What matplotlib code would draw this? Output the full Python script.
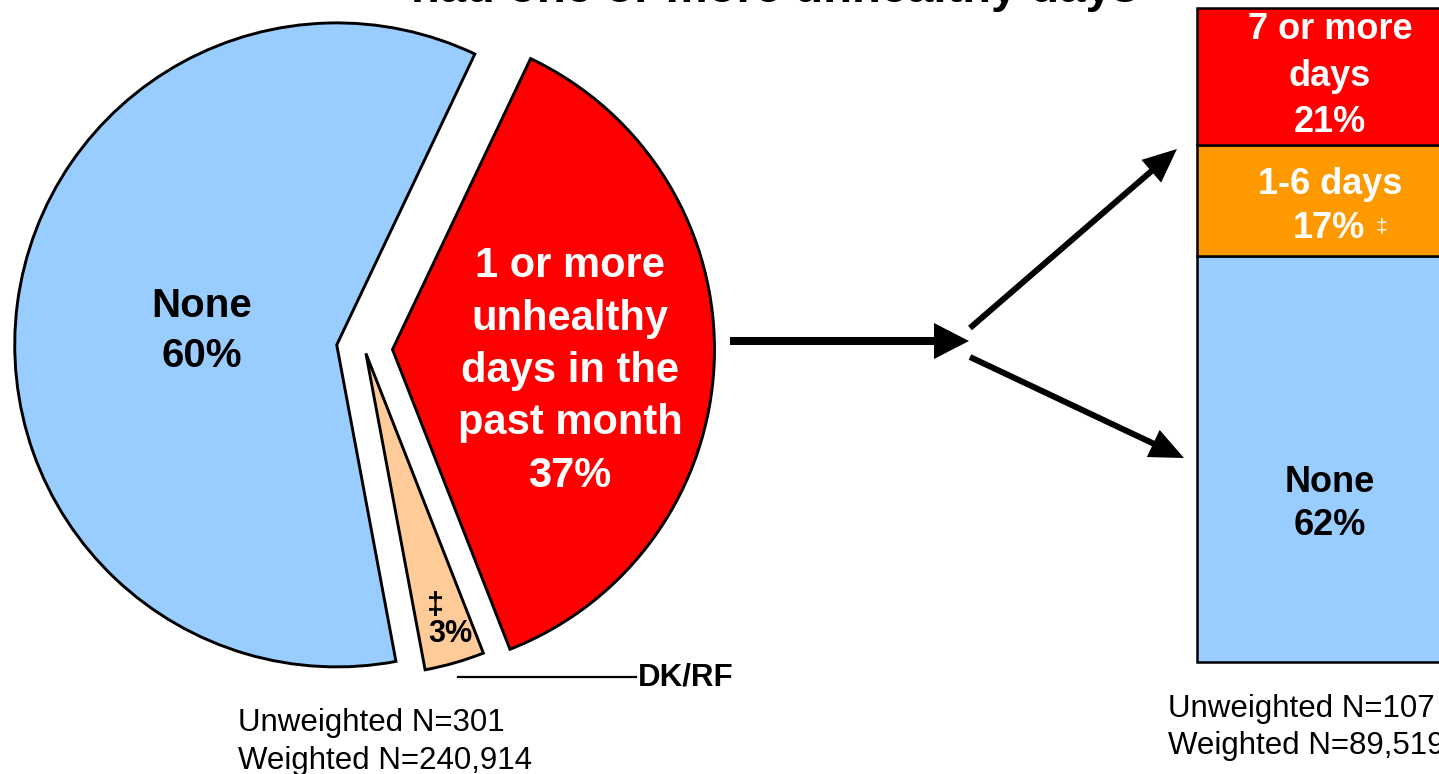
import matplotlib
matplotlib.use("Agg")
import matplotlib.pyplot as plt
from matplotlib.patches import FancyArrow

plt.rcParams['font.family'] = ['Liberation Sans', 'DejaVu Sans']

# ---- data ----
pie_labels = ["1 or more\nunhealthy\ndays in the\npast month\n37%", "\u2021\n3%", "None\n60%"]
pie_values = [37, 3, 60]          # red, DK/RF, None
pie_colors = ["#FF0000", "#FFCC99", "#99CCFF"]

bar_categories = ["None", "1-6 days", "7 or more days"]
bar_values = [62, 17, 21]
bar_colors = ["#99CCFF", "#FF9900", "#FF0000"]

title_text = "had one or more unhealthy days"
left_n = ["Unweighted N=301", "Weighted N=240,914"]
right_n = ["Unweighted N=107", "Weighted N=89,519"]

W, H = 1439, 774
fig = plt.figure(figsize=(W / 100, H / 100), dpi=100)

# ---- stacked bar (drawn in its own axes, behind the annotation layer) ----
bx0, bx1 = 1197, 1463
by0, by1 = 661.7, 8
ax2 = fig.add_axes([bx0 / W, (H - by0) / H, (bx1 - bx0) / W, (by0 - by1) / H])
ax2.set_zorder(1)
bottom = 0
for v, c in zip(bar_values, bar_colors):
    ax2.bar(0, v, bottom=bottom, width=1, color=c, edgecolor="black",
            linewidth=1.8, clip_on=False)
    bottom += v
ax2.set_xlim(-0.5, 0.5)
ax2.set_ylim(0, 100)
ax2.axis("off")

ax = fig.add_axes([0, 0, 1, 1])
ax.set_zorder(3)
ax.patch.set_visible(False)

def Y(py):
    return H - py

# ---- pie ----
wedges, _ = ax.pie(pie_values, explode=[28, 5, 28], colors=pie_colors,
                   startangle=64.6, counterclock=False, radius=322,
                   center=(364.5, Y(348.5)),
                   wedgeprops=dict(edgecolor="black", linewidth=2.1))
ax.set_xlim(0, W)
ax.set_ylim(0, H)
ax.axis("off")

# pie labels
ax.text(202, Y(331), pie_labels[2], ha="center", va="center", fontsize=29,
        weight="bold", color="black", linespacing=1.38)
ax.text(570, Y(371), pie_labels[0],
        ha="center", va="center", fontsize=30, weight="bold", color="white",
        linespacing=1.40)
ax.text(435, Y(606), "\u2021", ha="center", va="center", fontsize=22,
        weight="bold", color="black")
ax.text(450, Y(634), "3%", ha="center", va="center", fontsize=22,
        weight="bold", color="black")

# DK/RF leader
ax.plot([458, 636], [Y(677), Y(677)], color="black", lw=1.6)
ax.text(638, Y(677), "DK/RF", ha="left", va="center", fontsize=22.5,
        weight="bold", color="black")

# N texts
ax.text(238, Y(731), left_n[0], ha="left", va="baseline", fontsize=22.5)
ax.text(238, Y(769), left_n[1], ha="left", va="baseline", fontsize=22.5)
ax.text(1168, Y(717), right_n[0], ha="left", va="baseline", fontsize=22.5)
ax.text(1168, Y(754), right_n[1], ha="left", va="baseline", fontsize=22.5)

# title (cut off at top of the figure, as in the reference)
ax.text(775, Y(2), title_text, ha="center", va="baseline", fontsize=34,
        weight="bold", color="black")

# arrows
ax.add_patch(FancyArrow(730, Y(341), 239, 0, width=8, head_width=36,
                        head_length=35, length_includes_head=True,
                        color="black", lw=0))
ax.add_patch(FancyArrow(970, Y(328), 207, 179, width=6, head_width=30,
                        head_length=34, length_includes_head=True,
                        color="black", lw=0))
ax.add_patch(FancyArrow(970, Y(357), 214, -101, width=6, head_width=30,
                        head_length=34, length_includes_head=True,
                        color="black", lw=0))

# bar labels
ax.text(1330, Y(76), "7 or more\ndays\n21%", ha="center", va="center",
        fontsize=26, weight="bold", color="white", linespacing=1.43)
ax.text(1330, Y(184), "1-6 days", ha="center", va="center",
        fontsize=26, weight="bold", color="white")
ax.text(1329, Y(228), "17%", ha="center", va="center",
        fontsize=26, weight="bold", color="white")
ax.text(1381, Y(228), "\u2021", ha="center", va="center",
        fontsize=15, color="white")
ax.text(1330, Y(504), "None\n62%", ha="center", va="center",
        fontsize=26, weight="bold", color="black", linespacing=1.32)

fig.savefig("out.png", dpi=100)
